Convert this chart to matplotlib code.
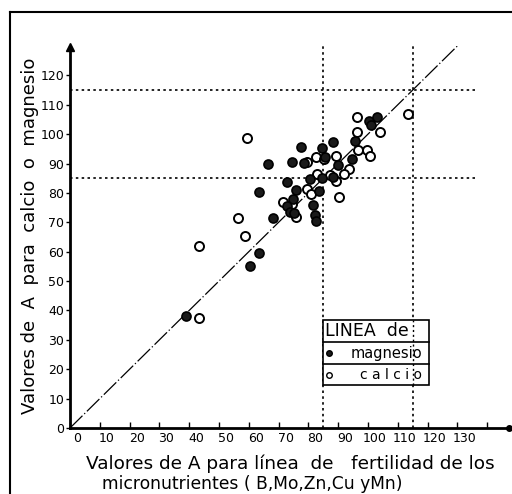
import matplotlib
matplotlib.use("Agg")
import matplotlib.pyplot as plt
import matplotlib.transforms as mtransforms
from matplotlib.lines import Line2D
from matplotlib.patches import Rectangle

# Valores de A: línea de micronutrientes (x) frente a magnesio / calcio (y)
mg_x = [39, 60.4, 63.4, 68.2, 63.4, 66.5, 74.6, 77.4, 84.5, 88.1, 90.0, 72.7,
        80.5, 84.5, 88.4, 75.7, 83.7, 75.0, 72.7, 81.7, 73.8, 75.3, 82.2, 82.4,
        100.4, 102.9, 100.9, 95.6, 85.6, 94.8, 78.6]
mg_y = [38, 55.0, 59.4, 71.5, 80.2, 89.7, 90.6, 95.7, 95.3, 97.4, 89.5, 83.6,
        84.9, 85.1, 85.5, 81.0, 80.6, 78.1, 75.5, 75.9, 73.6, 73.0, 72.4, 70.4,
        104.5, 105.7, 103.1, 97.7, 92.3, 91.5, 90.2]

ca_x = [43.4, 43.2, 56.5, 58.8, 59.3, 79.4, 82.4, 85.2, 89.3, 82.8, 79.4, 80.9,
        90.2, 71.4, 74.6, 75.8, 113.5, 96.4, 104.0, 96.4, 96.7, 99.6, 100.7,
        93.7, 92.0, 89.3, 87.2]
ca_y = [37.3, 62.0, 71.5, 65.4, 98.6, 90.6, 92.3, 91.4, 92.5, 86.4, 81.5, 79.8,
        78.6, 77.0, 76.4, 71.7, 107.0, 105.7, 100.8, 100.8, 94.6, 94.6, 92.5,
        88.0, 86.3, 84.0, 86.1]

limits = [85, 115]
x_ticks = list(range(0, 150, 10))
x_labels = [str(v) if v <= 130 else "" for v in x_ticks]
y_ticks = list(range(0, 130, 10))

W, H = 512, 494
fig = plt.figure(figsize=(W / 100, H / 100), dpi=100)
ax = fig.add_axes([70 / W, (H - 428) / H, 441 / W, 382 / H])
ax.set_xlim(0, 148)
ax.set_ylim(0, 130)
ax.patch.set_alpha(0)

for s in ("top", "right"):
    ax.spines[s].set_visible(False)
for s in ("left", "bottom"):
    ax.spines[s].set_linewidth(2)

# flechas de los ejes
ax.plot([0], [129.5], marker="^", color="black", ms=6, clip_on=False)
ax.plot([147.3], [0], marker="o", color="black", ms=4, clip_on=False)

ax.set_xticks(x_ticks)
ax.set_xticklabels(x_labels)
ax.set_yticks(y_ticks)
ax.tick_params(axis="x", direction="in", length=4, width=1, labelsize=9, pad=3)
ax.tick_params(axis="y", direction="out", length=3, width=1, labelsize=9, pad=1)
shift = mtransforms.ScaledTranslation(7 / 100, 0, fig.dpi_scale_trans)
for lab in ax.get_xticklabels():
    lab.set_transform(lab.get_transform() + shift)

# líneas límite punteadas
for v in limits:
    ax.plot([0, 136], [v, v], color="black", lw=1.2, ls=(0, (1.5, 2)))
    ax.plot([v, v], [0, 131], color="black", lw=1.2, ls=(0, (1.5, 2)))

# línea 1:1
ax.plot([0, 130], [0, 130], color="black", lw=0.9, ls=(0, (14, 2, 1, 2)))

ax.plot(ca_x, ca_y, "o", ms=6.5, mfc="white", mec="black", mew=1.4, zorder=3)
ax.plot(mg_x, mg_y, "o", ms=6.5, mfc="#1a1a1a", mec="black", mew=1.2, zorder=4)

# cuadro de leyenda
x0, x1 = 85, 120.5
rows = [36.7, 29.1, 21.8, 14.6]
ax.add_patch(Rectangle((x0, rows[3]), x1 - x0, rows[0] - rows[3],
                       fill=True, fc="white", ec="black", lw=1.2, zorder=5))
for r in rows[1:3]:
    ax.plot([x0, x1], [r, r], color="black", lw=1.2, zorder=6)
ax.plot([115, 115], [rows[3], rows[0]], color="black", lw=1.0,
        ls=(0, (1.5, 2)), zorder=6)
ax.text(x0 + 0.5, (rows[0] + rows[1]) / 2, "LINEA  de", fontsize=12.5,
        ha="left", va="center", zorder=7)
ax.plot([x0 + 1.8], [(rows[1] + rows[2]) / 2], "o", ms=4, mfc="#1a1a1a",
        mec="black", zorder=7)
ax.text(x1 - 2.3, (rows[1] + rows[2]) / 2, "magnesio", fontsize=10.5,
        ha="right", va="center", zorder=7)
ax.plot([x0 + 1.8], [(rows[2] + rows[3]) / 2], "o", ms=4, mfc="white",
        mec="black", mew=1, zorder=7)
ax.text(x1 - 2.3, (rows[2] + rows[3]) / 2, "c a l c i o", fontsize=10,
        ha="right", va="center", zorder=7)

# títulos de los ejes
fig.text(30 / W, 1 - 236 / H, "Valores de  A  para  calcio  o  magnesio",
         rotation=90, fontsize=13, ha="center", va="center")
fig.text(290 / W, 1 - 464 / H,
         "Valores de A para línea  de   fertilidad de los",
         fontsize=13.3, ha="center", va="center")
fig.text(252 / W, 1 - 484 / H, "micronutrientes ( B,Mo,Zn,Cu yMn)",
         fontsize=12.3, ha="center", va="center")

# marco de la figura
fig.add_artist(Line2D([10 / W, 1], [1 - 12 / H, 1 - 12 / H],
                      transform=fig.transFigure, color="black", lw=1.5))
fig.add_artist(Line2D([10 / W, 10 / W], [0, 1 - 12 / H],
                      transform=fig.transFigure, color="black", lw=1.5))

fig.savefig("out.png", dpi=100)
